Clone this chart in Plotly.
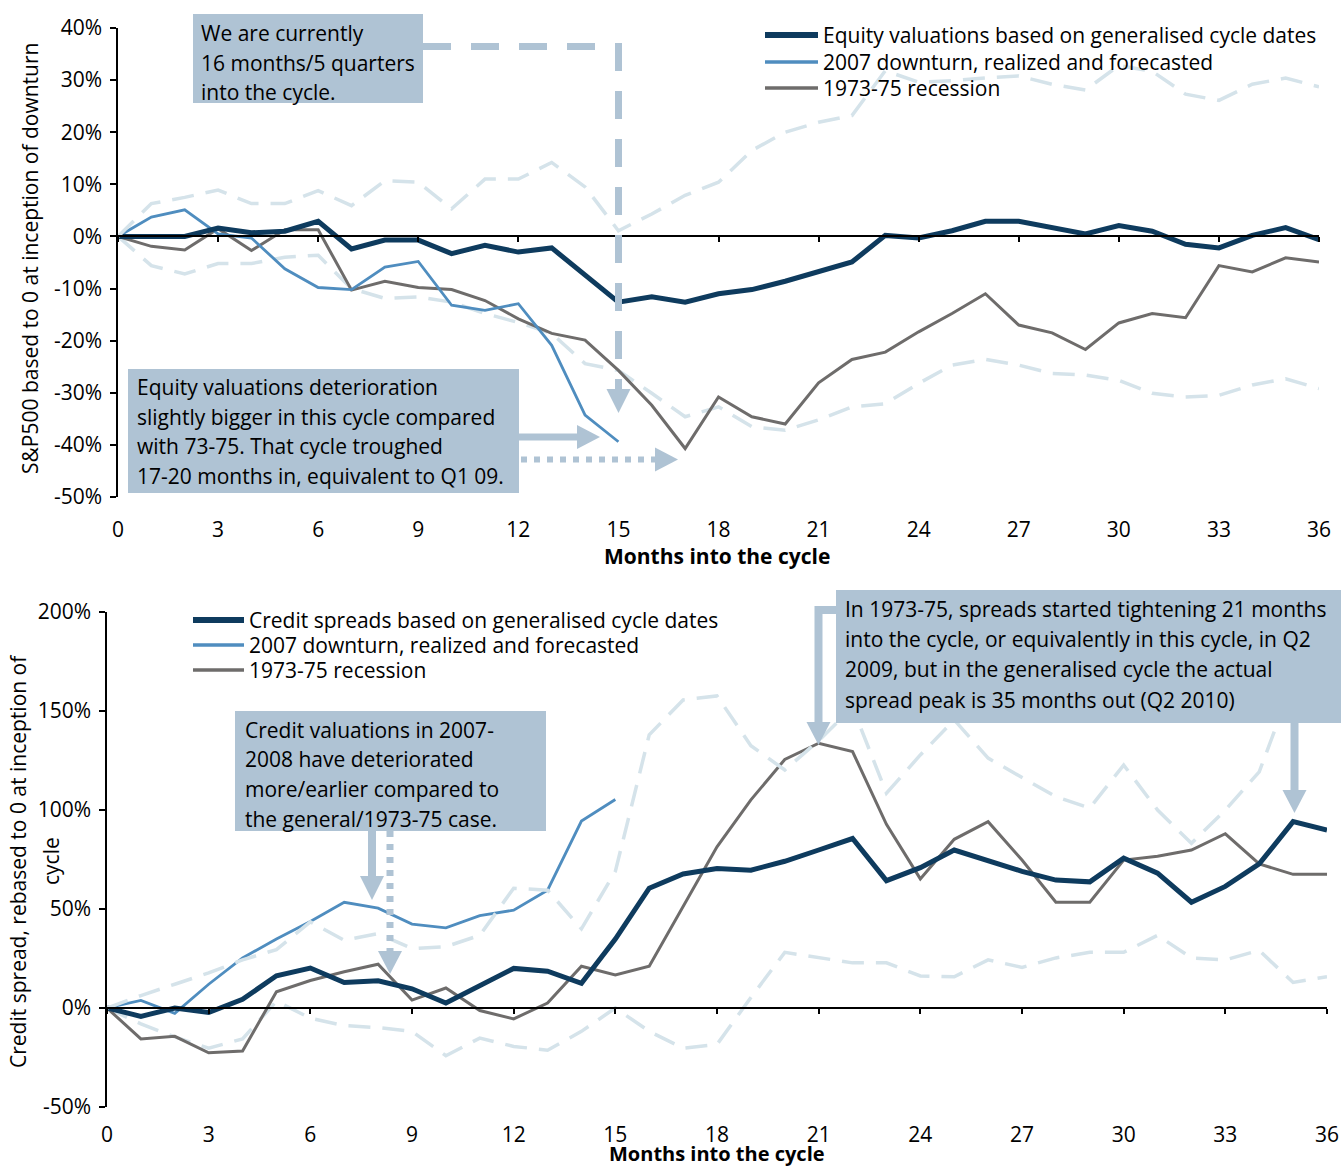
import plotly.graph_objects as go

W, H = 1341, 1168
FONT = "Open Sans"
NAVY = "#0e3b5e"
BLUE = "#4f8dbf"
GRAY = "#6e6c6b"
BAND = "#d5e3ea"
BOX = "#afc3d4"

months = list(range(37))
x_ticks = list(range(0, 37, 3))

# ---------------- Top chart: equity ----------------
eq_general = [0, 0, 0, 1.6, 0.7, 1.0, 2.9, -2.4, -0.7, -0.7, -3.3, -1.7, -3.0, -2.2, -7.5, -12.6,
              -11.6, -12.6, -11.0, -10.2, -8.6, -6.8, -4.9, 0.2, -0.3, 1.1, 2.9, 2.9, 1.7, 0.5,
              2.1, 1.0, -1.5, -2.2, 0.2, 1.7, -0.6]
eq_2007 = [0, 3.7, 5.1, 0.5, -0.3, -6.2, -9.8, -10.2, -5.9, -4.8, -13.2, -14.2, -12.9, -20.9,
           -34.3, -39.4]
eq_1973 = [0, -1.9, -2.6, 1.5, -2.7, 1.3, 1.3, -10.3, -8.6, -9.8, -10.2, -12.3, -15.8, -18.6,
           -19.9, -25.7, -32.4, -40.7, -30.8, -34.6, -36.0, -28.1, -23.6, -22.2, -18.3, -14.8,
           -11.0, -17.0, -18.5, -21.7, -16.6, -14.8, -15.6, -5.6, -6.8, -4.1, -4.9]
eq_upper = [0, 6.3, 7.5, 8.9, 6.3, 6.3, 8.8, 5.9, 10.7, 10.4, 5.3, 11.0, 11.0, 14.2, 9.5, 1.1,
            4.3, 7.9, 10.4, 16.5, 20.0, 21.9, 23.2, 31.8, 29.6, 29.9, 30.4, 30.8, 29.2, 28.1,
            32.8, 31.7, 27.3, 26.1, 29.2, 30.4, 28.7]
eq_lower = [0, -5.6, -7.2, -5.2, -5.2, -4.0, -3.6, -10.0, -11.9, -11.6, -12.6, -14.8, -16.5,
            -18.6, -24.4, -25.7, -30.1, -34.6, -32.7, -36.5, -37.2, -35.2, -32.7, -32.1, -28.2,
            -24.7, -23.6, -24.7, -26.3, -26.6, -27.6, -30.1, -30.8, -30.5, -28.5, -27.3, -29.2]
eq_yticks = list(range(-50, 41, 10))
eq_labels = ["Equity valuations based on generalised cycle dates",
             "2007 downturn, realized and forecasted", "1973-75 recession"]

# ---------------- Bottom chart: credit ----------------
cr_general = [0, -4.2, 0, -2.3, 4.4, 16.3, 20.2, 12.9, 13.7, 9.7, 2.5, 11.0, 20.0, 18.6, 12.5,
              34.8, 60.5, 67.7, 70.5, 69.6, 74.1, 79.8, 85.6, 64.3, 70.9, 79.8, 74.7, 69.0, 64.6,
              63.7, 75.7, 68.1, 53.4, 61.4, 72.8, 94.1, 89.9]
cr_2007 = [0, 3.8, -2.7, 12.0, 25.3, 34.8, 43.7, 53.4, 50.4, 42.4, 40.5, 46.6, 49.4, 59.5, 94.4,
           105.3]
cr_1973 = [0, -15.6, -14.3, -22.6, -21.7, 8.2, 13.9, 18.3, 22.1, 4.0, 10.1, -1.3, -5.5, 2.5, 21.1,
           16.7, 21.1, 51.0, 81.4, 105.1, 125.5, 133.7, 129.5, 92.8, 65.2, 85.2, 94.1, 74.7, 53.4,
           53.4, 74.7, 76.6, 79.8, 88.0, 72.8, 67.5, 67.5]
cr_upper = [0, 6.3, 12.0, 17.7, 24.3, 29.5, 43.5, 34.2, 37.6, 30.0, 31.0, 36.7, 60.5, 59.5, 40.0,
            69.0, 138.0, 155.6, 157.6, 132.5, 120.2, 135.0, 152.0, 108.5, 127.8, 145.5, 126.2,
            116.2, 106.7, 101.0, 122.7, 100.0, 83.2, 100.0, 119.3, 165.0, 158.0]
cr_lower = [0, -8.0, -14.6, -20.3, -15.6, 3.4, -5.1, -8.9, -9.9, -11.8, -24.1, -15.2, -19.4,
            -21.3, -11.8, 0, -11.8, -20.3, -18.4, 5.3, 28.1, 25.3, 22.8, 22.8, 16.2, 15.8, 24.3,
            20.5, 25.3, 28.1, 28.1, 36.7, 25.3, 24.3, 29.1, 12.9, 15.8]
cr_yticks = list(range(-50, 201, 50))
cr_labels = ["Credit spreads based on generalised cycle dates",
             "2007 downturn, realized and forecasted", "1973-75 recession"]

# ---------------- geometry helpers ----------------
def px(x):
    return x / W


def py(y):
    return 1 - y / H


TOP_X = [px(118), px(1319)]
TOP_Y = [py(497), py(28)]
TOP_R = [-50, 40]
BOT_X = [px(107), px(1327)]
BOT_Y = [py(1107), py(612)]
BOT_R = [-50, 200]


def zero_pos(dom, rng):
    return dom[0] + (0 - rng[0]) / (rng[1] - rng[0]) * (dom[1] - dom[0])


fig = go.Figure()

def add_line(x, y, color, width, xa, ya, name=None, dash=None):
    fig.add_trace(go.Scatter(
        x=x, y=y, mode="lines", xaxis=xa, yaxis=ya,
        line=dict(color=color, width=width, dash=dash),
        name=name, showlegend=False, hoverinfo="skip"))

DASH = "22px,12px"
# top
add_line(months, eq_upper, BAND, 3.5, "x3", "y", "upper range", dash=DASH)
add_line(months, eq_lower, BAND, 3.5, "x", "y", "lower range", dash=DASH)
add_line(months, eq_1973, GRAY, 3, "x", "y", eq_labels[2])
add_line(months[:len(eq_2007)], eq_2007, BLUE, 2.8, "x", "y", eq_labels[1])
add_line(months, eq_general, NAVY, 5, "x", "y", eq_labels[0])
# bottom
add_line(months, cr_upper, BAND, 3.5, "x4", "y2", "upper range", dash=DASH)
add_line(months, cr_lower, BAND, 3.5, "x2", "y2", "lower range", dash=DASH)
add_line(months, cr_1973, GRAY, 3, "x2", "y2", cr_labels[2])
add_line(months[:len(cr_2007)], cr_2007, BLUE, 2.8, "x2", "y2", cr_labels[1])
add_line(months, cr_general, NAVY, 5, "x2", "y2", cr_labels[0])

tickfont = dict(family=FONT, size=21, color="#000")

def xaxis_main(dom, anchor, standoff):
    return dict(domain=dom, anchor=anchor, range=[0, 36], tickvals=x_ticks, showline=False,
                ticks="", showgrid=False, zeroline=False, tickfont=tickfont,
                ticklabelstandoff=standoff, automargin=False, fixedrange=True)

def xaxis_zero(over, pos):
    return dict(overlaying=over, anchor="free", position=pos, range=[0, 36], tickvals=x_ticks,
                showline=True, linecolor="#000", linewidth=1.5, ticks="outside", ticklen=5,
                tickwidth=1.5, tickcolor="#000", showticklabels=False, showgrid=False,
                zeroline=False, automargin=False)

def yaxis(dom, anchor, rng, ticks):
    return dict(domain=dom, anchor=anchor, range=rng, tickvals=ticks,
                ticktext=[f"{v}%" for v in ticks],
                showline=True, linecolor="#000", linewidth=1.5, ticks="outside", ticklen=6,
                tickwidth=1.5, tickcolor="#000", showgrid=False, zeroline=False,
                tickfont=tickfont, ticklabelstandoff=4, automargin=False)

fig.update_layout(
    template="none",
    width=W, height=H, autosize=False,
    margin=dict(l=0, r=0, t=0, b=0, pad=0),
    paper_bgcolor="white", plot_bgcolor="white",
    font=dict(family=FONT, size=21, color="#000"),
    showlegend=False,
    xaxis=xaxis_main(TOP_X, "y", 18),
    yaxis=yaxis(TOP_Y, "x", TOP_R, eq_yticks),
    xaxis3=xaxis_zero("x", zero_pos(TOP_Y, TOP_R)),
    xaxis2=xaxis_main(BOT_X, "y2", 13),
    yaxis2=yaxis(BOT_Y, "x2", BOT_R, cr_yticks),
    xaxis4=xaxis_zero("x2", zero_pos(BOT_Y, BOT_R)),
)

shapes = []
annotations = []

def box(x0, y0, x1, y1):
    shapes.append(dict(type="rect", xref="paper", yref="paper", x0=px(x0), x1=px(x1),
                       y0=py(y1), y1=py(y0), fillcolor=BOX, line=dict(width=0), layer="above"))

def text_lines(x, ys, lines):
    for yy, t in zip(ys, lines):
        annotations.append(dict(xref="paper", yref="paper", x=px(x), y=py(yy), text=t,
                                showarrow=False, xanchor="left", yanchor="middle",
                                font=dict(family=FONT, size=21, color="#000")))

def poly(points, width, dash=None, color=BOX):
    d = "M " + " L ".join(f"{px(a):.6f},{py(b):.6f}" for a, b in points)
    shapes.append(dict(type="path", xref="paper", yref="paper", path=d,
                       line=dict(color=color, width=width, dash=dash), layer="above"))

def head(tip, direction, length=23, half=12):
    tx, ty = tip
    if direction == "down":
        pts = [(tx - half, ty - length), (tx + half, ty - length), (tx, ty)]
    else:
        pts = [(tx - length, ty - half), (tx - length, ty + half), (tx, ty)]
    d = "M " + " L ".join(f"{px(a):.6f},{py(b):.6f}" for a, b in pts) + " Z"
    shapes.append(dict(type="path", xref="paper", yref="paper", path=d, fillcolor=BOX,
                       line=dict(width=0), layer="above"))

def legend(x0, x1, ys, labels, colors, widths):
    for yy, lab, col, wd in zip(ys, labels, colors, widths):
        poly([(x0, yy), (x1, yy)], wd, color=col)
        text_lines(x1 + 3, [yy], [lab])

# legends
legend(765, 818, [35, 62, 88], eq_labels, [NAVY, BLUE, GRAY], [6, 3.5, 3.5])
legend(193, 244, [620, 645, 670], cr_labels, [NAVY, BLUE, GRAY], [6, 3.5, 3.5])

# top annotations
box(193, 14, 423, 103)
text_lines(199, [33, 63, 92], ["We are currently", "16 months/5 quarters", "into the cycle."])
poly([(423, 46.5), (618.5, 46.5), (618.5, 392)], 7, "28px,20px")
head((618.5, 413), "down", 24, 12)

box(128, 369, 519, 493)
text_lines(135, [387, 417, 446, 476],
           ["Equity valuations deterioration", "slightly bigger in this cycle compared",
            "with 73-75. That cycle troughed", "17-20 months in, equivalent to Q1 09."])
poly([(519, 437), (580, 437)], 7)
head((600, 437), "right", 23, 12)
poly([(521, 459.5), (657, 459.5)], 6, "6px,7px")
head((678, 459.5), "right", 23, 12)

annotations.append(dict(xref="paper", yref="paper", x=px(30), y=py(259), textangle=-90,
                        text="S&P500 based to 0 at inception of downturn", showarrow=False,
                        xanchor="center", yanchor="middle",
                        font=dict(family=FONT, size=21, color="#000")))
annotations.append(dict(xref="paper", yref="paper", x=px(717), y=py(556),
                        text="<b>Months into the cycle</b>", showarrow=False,
                        xanchor="center", yanchor="middle",
                        font=dict(family=FONT, size=21, color="#000")))

# bottom annotations
box(235, 711, 546, 831)
text_lines(243, [730, 759, 789, 819],
           ["Credit valuations in 2007-", "2008 have deteriorated",
            "more/earlier compared to", "the general/1973-75 case."])
poly([(372, 831), (372, 880)], 8)
head((372, 900), "down", 24, 12)
poly([(390, 831), (390, 954)], 7, "6px,7px")
head((390, 974), "down", 23, 12)

box(836, 590, 1341, 723)
text_lines(843, [609, 639, 669, 700],
           ["In 1973-75, spreads started tightening 21 months",
            "into the cycle, or equivalently in this cycle, in Q2",
            "2009, but in the generalised cycle the actual",
            "spread peak is 35 months out (Q2 2010)"])
poly([(836, 610), (818.5, 610), (818.5, 726)], 8)
head((818.5, 745), "down", 23, 12)
poly([(1294.5, 723), (1294.5, 794)], 8)
head((1294.5, 813), "down", 23, 12)

annotations.append(dict(xref="paper", yref="paper", x=px(18), y=py(861), textangle=-90,
                        text="Credit spread, rebased to 0 at inception of", showarrow=False,
                        xanchor="center", yanchor="middle",
                        font=dict(family=FONT, size=21, color="#000")))
annotations.append(dict(xref="paper", yref="paper", x=px(51), y=py(861), textangle=-90,
                        text="cycle", showarrow=False, xanchor="center", yanchor="middle",
                        font=dict(family=FONT, size=21, color="#000")))
annotations.append(dict(xref="paper", yref="paper", x=px(717), y=0,
                        text="<b>Months into the cycle</b>", showarrow=False,
                        xanchor="center", yanchor="bottom", borderpad=0,
                        font=dict(family=FONT, size=20, color="#000")))

fig.update_layout(shapes=shapes, annotations=annotations)
fig.write_html("out.html")
